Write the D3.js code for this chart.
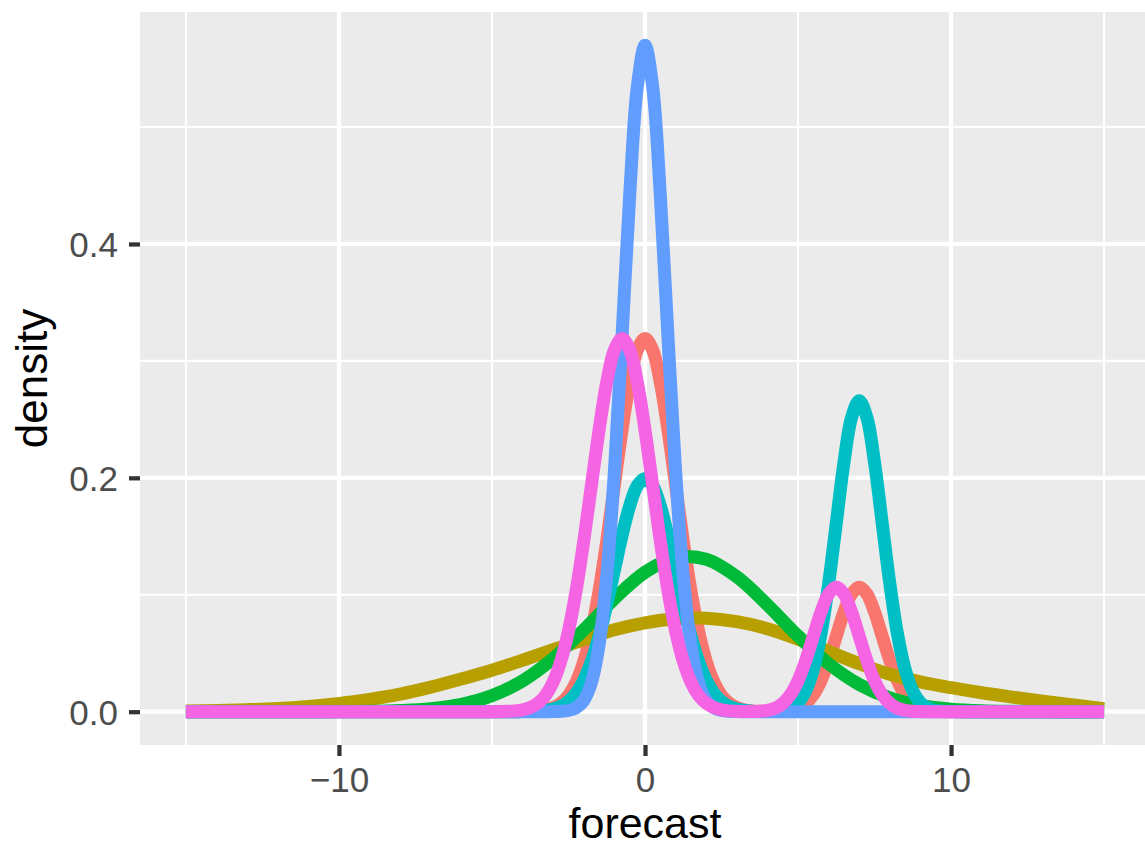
<!DOCTYPE html>
<html>
<head>
<meta charset="utf-8">
<script src="https://cdn.jsdelivr.net/npm/d3@7"></script>
<style>
  html, body { margin: 0; padding: 0; background: #ffffff; }
  svg { display: block; }
</style>
</head>
<body>
<svg id="chart" width="1145" height="848"></svg>
<script>
// ---------------- DATA ----------------
// broad curves sampled every 1 unit
const xWide = [-15,-14,-13,-12,-11,-10,-9,-8,-7,-6,-5,-4,-3,-2,-1,0,1,2,3,4,5,6,7,8,9,10,11,12,13,14,15];
const oliveValues = [0.0006,0.0010,0.0017,0.0027,0.0045,0.0070,0.0105,0.0150,0.0210,0.0280,0.0355,0.0440,0.0530,0.0615,0.0700,0.0760,0.0795,0.0800,0.0770,0.0710,0.0620,0.0515,0.0410,0.0320,0.0255,0.0205,0.0162,0.0125,0.0090,0.0057,0.0025];
const greenValues = [0,0,0,0,0.00003,0.0001,0.0003,0.0010,0.0026,0.0063,0.0137,0.0263,0.0454,0.0700,0.0966,0.1193,0.1318,0.1304,0.1154,0.0914,0.0647,0.0410,0.0233,0.0118,0.0054,0.0022,0.0008,0.0003,0.0001,0,0];

// narrow curves sampled finely
const xFine = [-15,-5,-4.5,-4.25,-4,-3.75,-3.5,-3.25,-3,-2.75,-2.5,-2.25,-2,-1.75,-1.5,-1.25,-1,-0.75,-0.5,-0.25,0,0.25,0.5,0.75,1,1.25,1.5,1.75,2,2.25,2.5,2.75,3,3.25,3.5,3.75,4,4.25,4.5,4.75,5,5.25,5.5,5.75,6,6.25,6.5,6.75,7,7.25,7.5,7.75,8,8.25,8.5,8.75,9,9.25,9.5,10,15];
const redValues = [0,0,0,0,0.0001,0.0003,0.0007,0.0016,0.0035,0.0073,0.0140,0.0254,0.0432,0.0690,0.1036,0.1461,0.1936,0.2409,0.2817,0.3094,0.3191,0.3094,0.2817,0.2409,0.1936,0.1461,0.1036,0.0690,0.0432,0.0254,0.0140,0.0073,0.0035,0.0016,0.0007,0.0003,0.0001,0.0001,0.0004,0.0012,0.0030,0.0070,0.0144,0.0265,0.0437,0.0645,0.0852,0.1006,0.1064,0.1006,0.0852,0.0645,0.0437,0.0265,0.0144,0.0070,0.0030,0.0012,0.0004,0,0];
const cyanValues = [0,0,0,0,0.0001,0.0002,0.0004,0.0010,0.0022,0.0045,0.0088,0.0159,0.0270,0.0431,0.0648,0.0913,0.1210,0.1506,0.1760,0.1933,0.1995,0.1933,0.1760,0.1506,0.1210,0.0913,0.0648,0.0431,0.0270,0.0159,0.0088,0.0045,0.0022,0.0010,0.0004,0.0002,0.0002,0.0003,0.0010,0.0030,0.0076,0.0175,0.0360,0.0664,0.1094,0.1613,0.2130,0.2516,0.2660,0.2516,0.2130,0.1613,0.1094,0.0664,0.0360,0.0175,0.0076,0.0030,0.0010,0.0001,0];
const blueValues = [0,0,0,0,0,0,0,0,0.0001,0.0003,0.0010,0.0033,0.0096,0.0250,0.0574,0.1157,0.2054,0.3210,0.4416,0.5347,0.5699,0.5347,0.4416,0.3210,0.2054,0.1157,0.0574,0.0250,0.0096,0.0033,0.0010,0.0003,0.0001,0,0,0,0,0,0,0,0,0,0,0,0,0,0,0,0,0,0,0,0,0,0,0,0,0,0,0,0];
const pinkValues = [0,0,0.0003,0.0007,0.0016,0.0035,0.0073,0.0140,0.0254,0.0432,0.0690,0.1036,0.1461,0.1936,0.2409,0.2817,0.3094,0.3191,0.3094,0.2817,0.2409,0.1936,0.1461,0.1036,0.0690,0.0432,0.0254,0.0140,0.0073,0.0035,0.0016,0.0007,0.0003,0.0001,0.0001,0.0004,0.0012,0.0030,0.0070,0.0144,0.0265,0.0437,0.0645,0.0852,0.1006,0.1064,0.1006,0.0852,0.0645,0.0437,0.0265,0.0144,0.0070,0.0030,0.0012,0.0004,0.0001,0,0,0,0];

const seriesColors = ["#F8766D", "#B79F00", "#00BA38", "#00BFC4", "#619CFF", "#F564E3"];

const xTickValues = [-10, 0, 10];
const xTickLabels = ["\u221210", "0", "10"];
const xMinorValues = [-15, -5, 5, 15];
const yTickValues = [0, 0.2, 0.4];
const yTickLabels = ["0.0", "0.2", "0.4"];
const yMinorValues = [0.1, 0.3, 0.5];

const xTitle = "forecast";
const yTitle = "density";

// ---------------- BUILD ----------------
const series = [
  { xs: xFine, ys: redValues,   color: seriesColors[0] },
  { xs: xWide, ys: oliveValues, color: seriesColors[1] },
  { xs: xWide, ys: greenValues, color: seriesColors[2] },
  { xs: xFine, ys: cyanValues,  color: seriesColors[3] },
  { xs: xFine, ys: blueValues,  color: seriesColors[4] },
  { xs: xFine, ys: pinkValues,  color: seriesColors[5] }
];

const W = 1145, H = 848;
const panel = { left: 140, right: 1150, top: 12, bottom: 745 };

const allX = series.flatMap(s => s.xs);
const allY = series.flatMap(s => s.ys);
const [x0, x1] = d3.extent(allX);
const [y0, y1] = d3.extent(allY);
const xPad = (x1 - x0) * 0.05, yPad = (y1 - y0) * 0.05;

const x = d3.scaleLinear().domain([x0 - xPad, x1 + xPad]).range([panel.left, panel.right]);
const y = d3.scaleLinear().domain([y0 - yPad, y1 + yPad]).range([panel.bottom, panel.top]);

const svg = d3.select("#chart");
svg.append("rect").attr("width", W).attr("height", H).attr("fill", "#ffffff");

svg.append("defs").append("clipPath").attr("id", "panelClip")
  .append("rect")
  .attr("x", panel.left).attr("y", panel.top)
  .attr("width", panel.right - panel.left).attr("height", panel.bottom - panel.top);

svg.append("rect")
  .attr("x", panel.left).attr("y", panel.top)
  .attr("width", panel.right - panel.left).attr("height", panel.bottom - panel.top)
  .attr("fill", "#EBEBEB");

const grid = svg.append("g").attr("clip-path", "url(#panelClip)");
// minor grid
grid.selectAll(".vminor").data(xMinorValues).enter().append("line")
  .attr("x1", d => x(d)).attr("x2", d => x(d))
  .attr("y1", panel.top).attr("y2", panel.bottom)
  .attr("stroke", "#ffffff").attr("stroke-width", 2.1);
grid.selectAll(".hminor").data(yMinorValues).enter().append("line")
  .attr("y1", d => y(d)).attr("y2", d => y(d))
  .attr("x1", panel.left).attr("x2", panel.right)
  .attr("stroke", "#ffffff").attr("stroke-width", 2.1);
// major grid
grid.selectAll(".vmajor").data(xTickValues).enter().append("line")
  .attr("x1", d => x(d)).attr("x2", d => x(d))
  .attr("y1", panel.top).attr("y2", panel.bottom)
  .attr("stroke", "#ffffff").attr("stroke-width", 4.25);
grid.selectAll(".hmajor").data(yTickValues).enter().append("line")
  .attr("y1", d => y(d)).attr("y2", d => y(d))
  .attr("x1", panel.left).attr("x2", panel.right)
  .attr("stroke", "#ffffff").attr("stroke-width", 4.25);

// curves
const line = d3.line()
  .x(d => x(d[0]))
  .y(d => y(d[1]))
  .curve(d3.curveCatmullRom.alpha(0.5));

const curves = svg.append("g").attr("clip-path", "url(#panelClip)");
series.forEach(s => {
  const pts = s.xs.map((xv, i) => [xv, s.ys[i]]);
  curves.append("path")
    .datum(pts)
    .attr("d", line)
    .attr("fill", "none")
    .attr("stroke", s.color)
    .attr("stroke-width", 13)
    .attr("stroke-linecap", "butt")
    .attr("stroke-linejoin", "round");
});

// axes
const fontFam = "'Liberation Sans', Arial, Helvetica, sans-serif";

const xAxis = d3.axisBottom(x)
  .tickValues(xTickValues)
  .tickFormat((d, i) => xTickLabels[i])
  .tickSize(11)
  .tickPadding(11);
const gx = svg.append("g").attr("transform", `translate(0,${panel.bottom})`).call(xAxis);
gx.select(".domain").remove();
gx.selectAll(".tick line").attr("stroke", "#333333").attr("stroke-width", 4.25);
gx.selectAll(".tick text")
  .attr("fill", "#4D4D4D")
  .style("font-family", fontFam)
  .style("font-size", "35px");

const yAxis = d3.axisLeft(y)
  .tickValues(yTickValues)
  .tickFormat((d, i) => yTickLabels[i])
  .tickSize(11)
  .tickPadding(11);
const gy = svg.append("g").attr("transform", `translate(${panel.left},0)`).call(yAxis);
gy.select(".domain").remove();
gy.selectAll(".tick line").attr("stroke", "#333333").attr("stroke-width", 4.25);
gy.selectAll(".tick text")
  .attr("fill", "#4D4D4D")
  .attr("dy", "0.36em")
  .style("font-family", fontFam)
  .style("font-size", "35px");

// titles
svg.append("text")
  .attr("x", (panel.left + panel.right) / 2)
  .attr("y", 838)
  .attr("text-anchor", "middle")
  .attr("fill", "#000000")
  .style("font-family", fontFam)
  .style("font-size", "43px")
  .text(xTitle);

svg.append("text")
  .attr("transform", `translate(47,${(panel.top + panel.bottom) / 2}) rotate(-90)`)
  .attr("text-anchor", "middle")
  .attr("fill", "#000000")
  .style("font-family", fontFam)
  .style("font-size", "44px")
  .text(yTitle);
</script>
</body>
</html>
